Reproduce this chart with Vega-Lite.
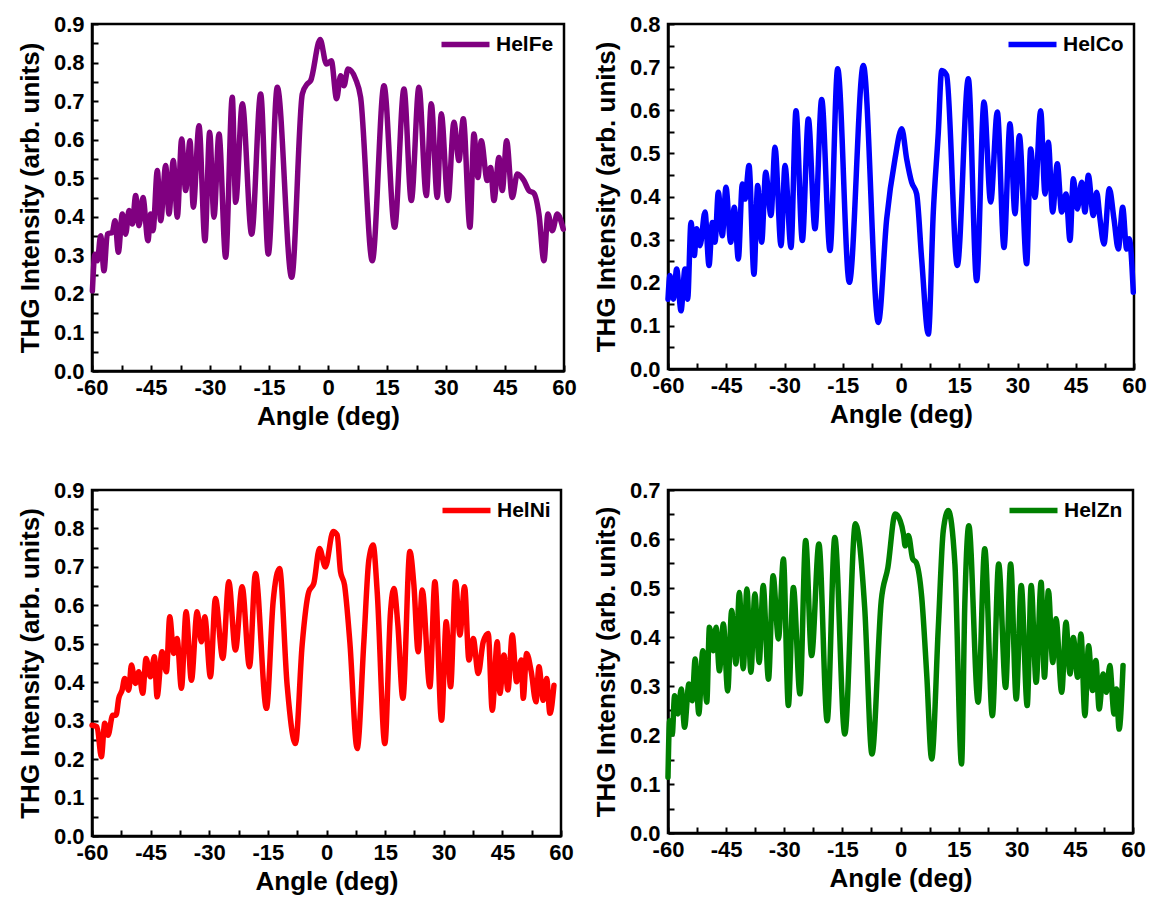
{
  "$schema": "https://vega.github.io/schema/vega-lite/v6.json",
  "background": "white",
  "padding": {"left": 16, "top": 11, "right": 0, "bottom": 0},
  "datasets": {
    "fe": [
      {"a":-59.9,"v":0.208},{"a":-59.24,"v":0.303},{"a":-58.64,"v":0.286},{"a":-57.8,"v":0.351},{"a":-56.95,"v":0.26},{"a":-56.1,"v":0.355},{"a":-54.83,"v":0.36},{"a":-54.15,"v":0.39},{"a":-53.3,"v":0.308},{"a":-52.29,"v":0.407},{"a":-51.44,"v":0.355},{"a":-50.6,"v":0.416},{"a":-49.75,"v":0.381},{"a":-48.9,"v":0.455},{"a":-48.05,"v":0.377},{"a":-47.04,"v":0.45},{"a":-45.77,"v":0.338},{"a":-45.09,"v":0.407},{"a":-44.49,"v":0.364},{"a":-43.39,"v":0.52},{"a":-42.54,"v":0.39},{"a":-41.27,"v":0.533},{"a":-40.43,"v":0.407},{"a":-39.33,"v":0.546},{"a":-38.31,"v":0.399},{"a":-37.2,"v":0.602},{"a":-36.19,"v":0.468},{"a":-35.09,"v":0.597},{"a":-34.24,"v":0.425},{"a":-32.8,"v":0.636},{"a":-31.28,"v":0.338},{"a":-30.09,"v":0.619},{"a":-28.99,"v":0.399},{"a":-27.72,"v":0.615},{"a":-26.02,"v":0.295},{"a":-24.33,"v":0.71},{"a":-23.48,"v":0.4375},{"a":-21.79,"v":0.693},{"a":-19.41,"v":0.355},{"a":-17.12,"v":0.7185},{"a":-15.18,"v":0.303},{"a":-12.89,"v":0.736},{"a":-9.24,"v":0.243},{"a":-6.53,"v":0.7185},{"a":-5.26,"v":0.745},{"a":-4.41,"v":0.753},{"a":-2.0,"v":0.86},{"a":-0.4,"v":0.796},{"a":0.84,"v":0.805},{"a":2.19,"v":0.706},{"a":3.21,"v":0.766},{"a":4.06,"v":0.74},{"a":5.08,"v":0.783},{"a":7.02,"v":0.757},{"a":8.29,"v":0.71},{"a":11.26,"v":0.286},{"a":14.23,"v":0.74},{"a":16.94,"v":0.373},{"a":19.31,"v":0.7315},{"a":21.18,"v":0.442},{"a":23.12,"v":0.736},{"a":24.99,"v":0.455},{"a":26.26,"v":0.693},{"a":27.78,"v":0.45},{"a":28.8,"v":0.667},{"a":30.5,"v":0.442},{"a":32.02,"v":0.645},{"a":33.29,"v":0.546},{"a":34.39,"v":0.654},{"a":36.09,"v":0.373},{"a":37.1,"v":0.615},{"a":38.12,"v":0.502},{"a":38.97,"v":0.597},{"a":40.49,"v":0.494},{"a":41.34,"v":0.528},{"a":42.19,"v":0.442},{"a":43.46,"v":0.554},{"a":44.31,"v":0.468},{"a":45.41,"v":0.597},{"a":46.85,"v":0.45},{"a":48.12,"v":0.511},{"a":49.81,"v":0.494},{"a":51.09,"v":0.468},{"a":52.36,"v":0.461},{"a":53.63,"v":0.407},{"a":54.9,"v":0.286},{"a":55.92,"v":0.407},{"a":57.02,"v":0.364},{"a":58.29,"v":0.407},{"a":59.81,"v":0.368}
    ],
    "co": [
      {"a":-60.0,"v":0.162},{"a":-59.49,"v":0.217},{"a":-58.63,"v":0.162},{"a":-57.77,"v":0.232},{"a":-56.65,"v":0.135},{"a":-55.62,"v":0.232},{"a":-54.94,"v":0.162},{"a":-54.08,"v":0.34},{"a":-53.22,"v":0.263},{"a":-52.62,"v":0.325},{"a":-51.76,"v":0.286},{"a":-50.47,"v":0.364},{"a":-49.44,"v":0.24},{"a":-48.58,"v":0.34},{"a":-47.9,"v":0.294},{"a":-47.04,"v":0.41},{"a":-46.01,"v":0.309},{"a":-45.07,"v":0.4216},{"a":-43.86,"v":0.294},{"a":-42.92,"v":0.375},{"a":-41.89,"v":0.255},{"a":-40.86,"v":0.429},{"a":-40.17,"v":0.394},{"a":-39.14,"v":0.472},{"a":-37.86,"v":0.22},{"a":-36.91,"v":0.4255},{"a":-35.88,"v":0.294},{"a":-34.85,"v":0.456},{"a":-33.48,"v":0.356},{"a":-32.45,"v":0.514},{"a":-30.9,"v":0.286},{"a":-29.87,"v":0.472},{"a":-28.33,"v":0.282},{"a":-27.04,"v":0.599},{"a":-25.41,"v":0.298},{"a":-23.86,"v":0.58},{"a":-22.15,"v":0.325},{"a":-20.43,"v":0.625},{"a":-18.28,"v":0.275},{"a":-16.31,"v":0.696},{"a":-13.31,"v":0.201},{"a":-9.7,"v":0.704},{"a":-5.84,"v":0.108},{"a":-3.69,"v":0.348},{"a":-1.55,"v":0.487},{"a":0.2,"v":0.557},{"a":1.46,"v":0.487},{"a":2.74,"v":0.433},{"a":4.03,"v":0.406},{"a":5.32,"v":0.255},{"a":7.04,"v":0.081},{"a":8.32,"v":0.364},{"a":9.61,"v":0.549},{"a":10.47,"v":0.692},{"a":11.76,"v":0.681},{"a":14.5,"v":0.24},{"a":17.34,"v":0.673},{"a":19.48,"v":0.205},{"a":21.37,"v":0.619},{"a":23.09,"v":0.387},{"a":24.8,"v":0.596},{"a":26.52,"v":0.282},{"a":28.07,"v":0.5685},{"a":29.35,"v":0.36},{"a":30.47,"v":0.541},{"a":32.36,"v":0.244},{"a":33.39,"v":0.51},{"a":34.5,"v":0.398},{"a":35.96,"v":0.599},{"a":37.08,"v":0.406},{"a":37.94,"v":0.526},{"a":39.05,"v":0.364},{"a":40.25,"v":0.476},{"a":41.37,"v":0.364},{"a":42.49,"v":0.406},{"a":43.52,"v":0.298},{"a":44.37,"v":0.441},{"a":45.4,"v":0.371},{"a":46.52,"v":0.433},{"a":47.38,"v":0.364},{"a":48.24,"v":0.449},{"a":49.52,"v":0.356},{"a":50.38,"v":0.41},{"a":51.24,"v":0.348},{"a":52.27,"v":0.29},{"a":53.64,"v":0.418},{"a":54.84,"v":0.348},{"a":55.96,"v":0.278},{"a":57.08,"v":0.375},{"a":58.11,"v":0.278},{"a":58.79,"v":0.302},{"a":59.82,"v":0.178}
    ],
    "ni": [
      {"a":-60.0,"v":0.288},{"a":-58.71,"v":0.284},{"a":-57.6,"v":0.206},{"a":-56.75,"v":0.293},{"a":-55.9,"v":0.262},{"a":-54.7,"v":0.314},{"a":-53.85,"v":0.314},{"a":-53.16,"v":0.358},{"a":-52.31,"v":0.379},{"a":-51.63,"v":0.41},{"a":-50.6,"v":0.379},{"a":-49.92,"v":0.4445},{"a":-48.9,"v":0.397},{"a":-48.04,"v":0.427},{"a":-47.02,"v":0.371},{"a":-46.17,"v":0.462},{"a":-45.06,"v":0.414},{"a":-44.03,"v":0.466},{"a":-43.35,"v":0.362},{"a":-42.07,"v":0.479},{"a":-40.96,"v":0.427},{"a":-40.11,"v":0.57},{"a":-39.08,"v":0.475},{"a":-38.23,"v":0.514},{"a":-37.12,"v":0.384},{"a":-35.93,"v":0.583},{"a":-34.56,"v":0.405},{"a":-33.11,"v":0.583},{"a":-32.0,"v":0.505},{"a":-31.15,"v":0.57},{"a":-29.7,"v":0.414},{"a":-28.42,"v":0.618},{"a":-26.54,"v":0.462},{"a":-25.0,"v":0.6615},{"a":-23.3,"v":0.4836},{"a":-21.59,"v":0.6485},{"a":-19.71,"v":0.44},{"a":-18.18,"v":0.683},{"a":-15.36,"v":0.332},{"a":-13.66,"v":0.609},{"a":-12.03,"v":0.696},{"a":-10.07,"v":0.392},{"a":-7.94,"v":0.2405},{"a":-6.23,"v":0.497},{"a":-4.53,"v":0.6355},{"a":-3.25,"v":0.657},{"a":-1.79,"v":0.748},{"a":-0.3,"v":0.7},{"a":1.7,"v":0.792},{"a":2.73,"v":0.783},{"a":3.58,"v":0.688},{"a":4.61,"v":0.653},{"a":5.97,"v":0.505},{"a":7.85,"v":0.2275},{"a":9.56,"v":0.505},{"a":10.84,"v":0.718},{"a":11.94,"v":0.757},{"a":12.97,"v":0.6355},{"a":14.93,"v":0.2405},{"a":16.38,"v":0.583},{"a":17.24,"v":0.644},{"a":18.26,"v":0.549},{"a":19.54,"v":0.358},{"a":21.33,"v":0.74},{"a":22.36,"v":0.653},{"a":23.46,"v":0.479},{"a":24.49,"v":0.64},{"a":26.45,"v":0.388},{"a":27.73,"v":0.6615},{"a":29.44,"v":0.301},{"a":30.63,"v":0.557},{"a":31.74,"v":0.388},{"a":33.02,"v":0.6615},{"a":34.13,"v":0.523},{"a":35.33,"v":0.6485},{"a":36.44,"v":0.4575},{"a":37.54,"v":0.514},{"a":38.82,"v":0.423},{"a":40.1,"v":0.505},{"a":41.38,"v":0.527},{"a":42.41,"v":0.327},{"a":43.69,"v":0.505},{"a":44.37,"v":0.371},{"a":45.4,"v":0.4705},{"a":46.42,"v":0.38},{"a":47.53,"v":0.523},{"a":48.64,"v":0.401},{"a":49.83,"v":0.4575},{"a":50.34,"v":0.358},{"a":51.2,"v":0.475},{"a":52.39,"v":0.427},{"a":53.59,"v":0.349},{"a":54.36,"v":0.44},{"a":55.46,"v":0.353},{"a":56.32,"v":0.41},{"a":57.17,"v":0.319},{"a":58.2,"v":0.392}
    ],
    "zn": [
      {"a":-60.0,"v":0.114},{"a":-59.58,"v":0.229},{"a":-58.9,"v":0.202},{"a":-58.3,"v":0.28},{"a":-57.44,"v":0.243},{"a":-56.58,"v":0.294},{"a":-55.73,"v":0.216},{"a":-54.61,"v":0.304},{"a":-53.76,"v":0.27},{"a":-52.99,"v":0.355},{"a":-52.05,"v":0.243},{"a":-51.02,"v":0.372},{"a":-49.99,"v":0.267},{"a":-49.31,"v":0.42},{"a":-48.28,"v":0.372},{"a":-47.6,"v":0.42},{"a":-46.74,"v":0.331},{"a":-45.71,"v":0.4266},{"a":-44.6,"v":0.29},{"a":-43.57,"v":0.454},{"a":-42.46,"v":0.345},{"a":-41.6,"v":0.491},{"a":-40.58,"v":0.335},{"a":-39.64,"v":0.498},{"a":-38.61,"v":0.328},{"a":-37.58,"v":0.488},{"a":-36.47,"v":0.348},{"a":-35.44,"v":0.505},{"a":-34.07,"v":0.314},{"a":-32.87,"v":0.525},{"a":-31.5,"v":0.396},{"a":-30.22,"v":0.559},{"a":-28.94,"v":0.26},{"a":-27.65,"v":0.501},{"a":-25.94,"v":0.284},{"a":-24.48,"v":0.597},{"a":-22.94,"v":0.362},{"a":-21.06,"v":0.59},{"a":-18.92,"v":0.229},{"a":-16.95,"v":0.603},{"a":-14.38,"v":0.202},{"a":-11.64,"v":0.631},{"a":-9.25,"v":0.461},{"a":-7.36,"v":0.161},{"a":-4.97,"v":0.474},{"a":-3.25,"v":0.542},{"a":-1.37,"v":0.651},{"a":-0.09,"v":0.6375},{"a":0.77,"v":0.61},{"a":1.2,"v":0.586},{"a":2.05,"v":0.607},{"a":3.16,"v":0.559},{"a":4.02,"v":0.5525},{"a":5.48,"v":0.481},{"a":6.76,"v":0.3245},{"a":8.04,"v":0.151},{"a":9.76,"v":0.42},{"a":11.04,"v":0.617},{"a":12.32,"v":0.658},{"a":14.04,"v":0.549},{"a":15.75,"v":0.141},{"a":16.6,"v":0.4675},{"a":17.63,"v":0.627},{"a":20.03,"v":0.267},{"a":21.74,"v":0.58},{"a":23.71,"v":0.2395},{"a":25.34,"v":0.549},{"a":27.13,"v":0.297},{"a":28.42,"v":0.549},{"a":29.87,"v":0.2735},{"a":31.16,"v":0.505},{"a":32.7,"v":0.26},{"a":33.72,"v":0.505},{"a":35.01,"v":0.3075},{"a":36.29,"v":0.5116},{"a":37.15,"v":0.318},{"a":38.17,"v":0.4946},{"a":39.29,"v":0.348},{"a":40.14,"v":0.437},{"a":41.6,"v":0.287},{"a":42.71,"v":0.43},{"a":43.74,"v":0.3245},{"a":44.6,"v":0.399},{"a":45.71,"v":0.318},{"a":46.57,"v":0.406},{"a":47.59,"v":0.2395},{"a":48.53,"v":0.382},{"a":49.56,"v":0.2906},{"a":50.42,"v":0.352},{"a":51.27,"v":0.253},{"a":52.3,"v":0.3245},{"a":53.15,"v":0.287},{"a":54.01,"v":0.3416},{"a":55.12,"v":0.243},{"a":55.72,"v":0.294},{"a":56.41,"v":0.212},{"a":57.43,"v":0.3416}
    ]
  },
  "columns": 2,
  "spacing": {"column": 14, "row": 46},
  "resolve": {"scale": {"color": "independent", "x": "independent", "y": "independent"}, "legend": {"color": "independent"}},
  "concat": [
    {
      "width": 472, "height": 347,
      "data": {"name": "fe"},
      "transform": [{"calculate": "'HelFe'", "as": "s"}],
      "mark": {"type": "line", "strokeWidth": 5.5, "interpolate": "monotone", "strokeCap": "round", "strokeJoin": "round"},
      "encoding": {
        "x": {"field": "a", "type": "quantitative", "title": "Angle (deg)", "scale": {"domain": [-60, 60], "nice": false},
              "axis": {"values": [-60,-52.5,-45,-37.5,-30,-22.5,-15,-7.5,0,7.5,15,22.5,30,37.5,45,52.5,60], "labelExpr": "round(datum.value*10) % 150 == 0 ? '' + datum.value : ''"}},
        "y": {"field": "v", "type": "quantitative", "title": "THG Intensity (arb. units)", "scale": {"domain": [0, 0.9], "nice": false},
              "axis": {"values": [0,0.05,0.1,0.15,0.2,0.25,0.3,0.35,0.4,0.45,0.5,0.55,0.6,0.65,0.7,0.75,0.8,0.85,0.9], "labelExpr": "round(datum.value*100) % 10 == 0 ? format(datum.value, '.1f') : ''"}},
        "color": {"field": "s", "type": "nominal", "scale": {"domain": ["HelFe"], "range": ["#800080"]}}
      }
    },
    {
      "width": 466, "height": 345,
      "data": {"name": "co"},
      "transform": [{"calculate": "'HelCo'", "as": "s"}],
      "mark": {"type": "line", "strokeWidth": 5.5, "interpolate": "monotone", "strokeCap": "round", "strokeJoin": "round"},
      "encoding": {
        "x": {"field": "a", "type": "quantitative", "title": "Angle (deg)", "scale": {"domain": [-60, 60], "nice": false},
              "axis": {"values": [-60,-52.5,-45,-37.5,-30,-22.5,-15,-7.5,0,7.5,15,22.5,30,37.5,45,52.5,60], "labelExpr": "round(datum.value*10) % 150 == 0 ? '' + datum.value : ''"}},
        "y": {"field": "v", "type": "quantitative", "title": "THG Intensity (arb. units)", "scale": {"domain": [0, 0.8], "nice": false},
              "axis": {"values": [0,0.05,0.1,0.15,0.2,0.25,0.3,0.35,0.4,0.45,0.5,0.55,0.6,0.65,0.7,0.75,0.8], "labelExpr": "round(datum.value*100) % 10 == 0 ? format(datum.value, '.1f') : ''"}},
        "color": {"field": "s", "type": "nominal", "scale": {"domain": ["HelCo"], "range": ["#0000FF"]}}
      }
    },
    {
      "width": 469, "height": 346,
      "data": {"name": "ni"},
      "transform": [{"calculate": "'HelNi'", "as": "s"}],
      "mark": {"type": "line", "strokeWidth": 5.5, "interpolate": "monotone", "strokeCap": "round", "strokeJoin": "round"},
      "encoding": {
        "x": {"field": "a", "type": "quantitative", "title": "Angle (deg)", "scale": {"domain": [-60, 60], "nice": false},
              "axis": {"values": [-60,-52.5,-45,-37.5,-30,-22.5,-15,-7.5,0,7.5,15,22.5,30,37.5,45,52.5,60], "labelExpr": "round(datum.value*10) % 150 == 0 ? '' + datum.value : ''"}},
        "y": {"field": "v", "type": "quantitative", "title": "THG Intensity (arb. units)", "scale": {"domain": [0, 0.9], "nice": false},
              "axis": {"values": [0,0.05,0.1,0.15,0.2,0.25,0.3,0.35,0.4,0.45,0.5,0.55,0.6,0.65,0.7,0.75,0.8,0.85,0.9], "labelExpr": "round(datum.value*100) % 10 == 0 ? format(datum.value, '.1f') : ''"}},
        "color": {"field": "s", "type": "nominal", "scale": {"domain": ["HelNi"], "range": ["#FF0000"]}}
      }
    },
    {
      "width": 465, "height": 343,
      "data": {"name": "zn"},
      "transform": [{"calculate": "'HelZn'", "as": "s"}],
      "mark": {"type": "line", "strokeWidth": 5.5, "interpolate": "monotone", "strokeCap": "round", "strokeJoin": "round"},
      "encoding": {
        "x": {"field": "a", "type": "quantitative", "title": "Angle (deg)", "scale": {"domain": [-60, 60], "nice": false},
              "axis": {"values": [-60,-52.5,-45,-37.5,-30,-22.5,-15,-7.5,0,7.5,15,22.5,30,37.5,45,52.5,60], "labelExpr": "round(datum.value*10) % 150 == 0 ? '' + datum.value : ''"}},
        "y": {"field": "v", "type": "quantitative", "title": "THG Intensity (arb. units)", "scale": {"domain": [0, 0.7], "nice": false},
              "axis": {"values": [0,0.05,0.1,0.15,0.2,0.25,0.3,0.35,0.4,0.45,0.5,0.55,0.6,0.65,0.7], "labelExpr": "round(datum.value*100) % 10 == 0 ? format(datum.value, '.1f') : ''"}},
        "color": {"field": "s", "type": "nominal", "scale": {"domain": ["HelZn"], "range": ["#008000"]}}
      }
    }
  ],
  "config": {
    "font": "Liberation Sans",
    "view": {"stroke": "black", "strokeWidth": 2.5},
    "axis": {
      "grid": false,
      "domainColor": "black", "domainWidth": 2.5,
      "tickColor": "black", "tickWidth": 2, "tickSize": -6,
      "labelFont": "Liberation Sans", "labelFontSize": 22, "labelFontWeight": "bold", "labelColor": "black",
      "labelOverlap": false, "labelFlush": false, "labelBound": false,
      "titleFont": "Liberation Sans", "titleFontSize": 26, "titleFontWeight": "bold", "titleColor": "black"
    },
    "axisX": {"labelPadding": 12, "titlePadding": 5},
    "axisY": {"labelPadding": 14, "titlePadding": 10},
    "legend": {
      "orient": "top-right", "offset": 10, "padding": 0, "title": null,
      "symbolType": "M-4,0L4,0", "symbolSize": 144, "symbolStrokeWidth": 5.5,
      "labelFont": "Liberation Sans", "labelFontSize": 21, "labelFontWeight": "bold", "labelColor": "black", "labelOffset": 20
    }
  }
}
